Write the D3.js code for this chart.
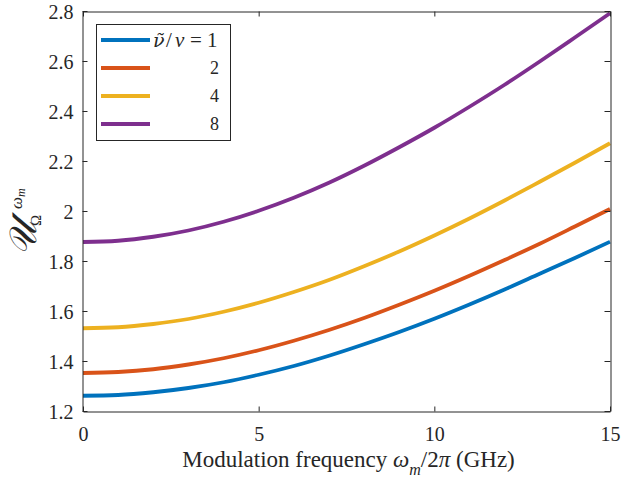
<!DOCTYPE html>
<html><head><meta charset="utf-8">
<script src="https://cdn.jsdelivr.net/npm/d3@7"></script>
<style>body{margin:0;background:#fff}svg{display:block}</style>
</head><body><svg id="c" width="621" height="482"></svg>
<script>
const freq = [0,1,2,3,4,5,6,7,8,9,10,11,12,13,14,15];
const ratio1 = [1.261,1.264,1.275,1.292,1.315,1.345,1.380,1.421,1.467,1.516,1.569,1.626,1.686,1.749,1.812,1.877];
const ratio2 = [1.352,1.356,1.367,1.386,1.411,1.443,1.481,1.524,1.572,1.625,1.681,1.741,1.804,1.869,1.938,2.008];
const ratio4 = [1.531,1.535,1.548,1.568,1.597,1.633,1.676,1.724,1.779,1.838,1.902,1.970,2.042,2.117,2.193,2.271];
const ratio8 = [1.876,1.881,1.897,1.922,1.957,2.001,2.053,2.113,2.181,2.255,2.333,2.417,2.505,2.598,2.694,2.791];
const seriesLabels = ["1","2","4","8"];
const xTicks = [0,5,10,15];
const yTicks = [1.2,1.4,1.6,1.8,2,2.2,2.4,2.6,2.8];
const colors = ["#0072BD","#D95319","#EDB120","#7E2F8E"];
const series = [ratio1, ratio2, ratio4, ratio8];

const FONT = "'Liberation Serif', 'Times New Roman', serif";
const svg = d3.select("#c");
const L = 83, R = 610, T = 11, B = 411;
const x = d3.scaleLinear().domain([0,15]).range([L,R]);
const y = d3.scaleLinear().domain([1.2,2.8]).range([B,T]);
const axc = "#262626";
const LW = 3.8;

function txt(sel, size){ return sel.style("font-family",FONT).style("font-size",size+"px").style("fill",axc); }

// lines
const line = d3.line().x((d,i)=>x(freq[i])).y(d=>y(d)).curve(d3.curveMonotoneX);
svg.append("clipPath").attr("id","cp").append("rect").attr("x",L).attr("y",T-2).attr("width",R-L+2).attr("height",B-T+2);
series.forEach((s,k)=>{
  svg.append("path").attr("d",line(s)).attr("fill","none").attr("stroke",colors[k]).attr("stroke-width",LW).attr("clip-path","url(#cp)");
});

function style(g){
  g.attr("font-family",null).attr("font-size",null);
  g.select(".domain").attr("stroke",axc).attr("stroke-width",1);
  g.selectAll(".tick line").attr("stroke",axc);
  txt(g.selectAll(".tick text"), 20);
}
const gB = svg.append("g").attr("transform",`translate(0,${B+0.5})`).call(d3.axisBottom(x).tickValues(xTicks).tickSizeInner(-5).tickSizeOuter(0).tickPadding(15).tickFormat(d3.format("d")));
style(gB);
const gL = svg.append("g").attr("transform",`translate(${L-0.5},0)`).call(d3.axisLeft(y).tickValues(yTicks).tickSizeInner(-5).tickSizeOuter(0).tickPadding(9).tickFormat(d=>String(+d.toFixed(1))));
style(gL);
gL.selectAll(".tick text").attr("dy","0.36em");
const gT = svg.append("g").attr("transform",`translate(0,${T+0.5})`).call(d3.axisTop(x).tickValues(xTicks).tickSizeInner(-5).tickSizeOuter(0).tickFormat(""));
style(gT);
const gR = svg.append("g").attr("transform",`translate(${R+0.5},0)`).call(d3.axisRight(y).tickValues(yTicks).tickSizeInner(-6).tickSizeOuter(0).tickFormat(""));
style(gR);

// legend
const lg = svg.append("g");
lg.append("rect").attr("x",96.5).attr("y",24.5).attr("width",134).attr("height",116).attr("fill","#fff").attr("stroke",axc).attr("stroke-width",1);
const rowY = [40,68,96,124];
seriesLabels.forEach((lab,k)=>{
  lg.append("line").attr("x1",101).attr("x2",150).attr("y1",rowY[k]).attr("y2",rowY[k]).attr("stroke",colors[k]).attr("stroke-width",LW);
  if(k===0){
    const by = rowY[k]+7;
    const t = txt(lg.append("text"),21).attr("y",by);
    t.append("tspan").attr("x",153).style("font-style","italic").style("font-family","'DejaVu Serif', serif").style("font-size","19px").text("ν\u0303");
    t.append("tspan").attr("x",166).text("/");
    t.append("tspan").attr("x",175).style("font-style","italic").text("ν");
    t.append("tspan").attr("x",190).text("=");
    t.append("tspan").attr("x",207).text(lab);
  } else {
    txt(lg.append("text"),18).attr("x",219).attr("y",rowY[k]+6).attr("text-anchor","end").text(lab);
  }
});

// x label
const xl = txt(svg.append("text"),23).attr("x",(L+R)/2+2).attr("y",467).attr("text-anchor","middle");
xl.append("tspan").text("Modulation frequency ");
xl.append("tspan").style("font-style","italic").text("ω");
xl.append("tspan").style("font-style","italic").style("font-size","16px").attr("dy",8).text("m");
xl.append("tspan").attr("dy",-8).text("/2");
xl.append("tspan").style("font-style","italic").text("π");
xl.append("tspan").text(" (GHz)");

// y label (rotated frame: local x = -screen y)
const yl = txt(svg.append("text"),38).attr("transform","translate(36,0) rotate(-90)");
yl.append("tspan").attr("x",-256).attr("y",0).style("font-style","italic").text("𝒰");
yl.append("tspan").attr("x",-209).attr("y",-14).style("font-size","17px").style("font-style","italic").text("ω");
yl.append("tspan").attr("x",-197).attr("y",-11).style("font-size","12px").style("font-style","italic").text("m");
yl.append("tspan").attr("x",-226).attr("y",5).style("font-size","15px").text("Ω");
</script></body></html>
